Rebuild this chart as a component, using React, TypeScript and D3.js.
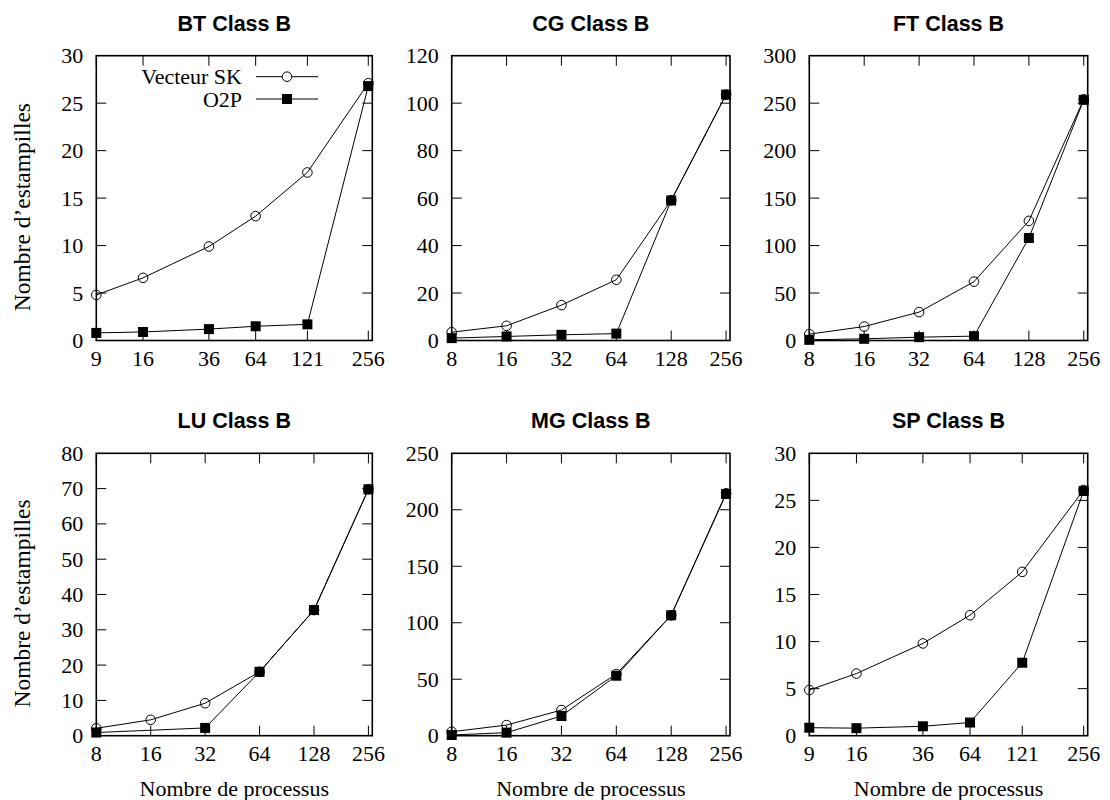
import React from "react";
import * as d3 from "d3";

// ---------- data ----------
const titles = ["BT Class B", "CG Class B", "FT Class B", "LU Class B", "MG Class B", "SP Class B"];
const procsSquare = [9, 16, 36, 64, 121, 256];
const procsPow2 = [8, 16, 32, 64, 128, 256];
const seriesNames = ["Vecteur SK", "O2P"];

const btSK = [4.8, 6.6, 9.9, 13.1, 17.7, 27.1];
const btO2P = [0.8, 0.9, 1.2, 1.5, 1.7, 26.8];
const cgSK = [3.5, 6.2, 14.9, 25.6, 59.1, 103.6];
const cgO2P = [1.0, 1.7, 2.4, 2.9, 59.0, 103.6];
const ftSK = [6.7, 14.7, 29.9, 62, 126, 254];
const ftO2P = [0.7, 1.8, 3.5, 4.6, 108, 253.5];
const luSK = [2.1, 4.5, 9.2, 18.1, 35.6, 69.8];
const luO2P: (number | null)[] = [0.9, null, 2.2, 18.1, 35.6, 69.8];
const mgSK = [3.5, 9.4, 22.7, 54.6, 106.6, 214.6];
const mgO2P = [0.6, 2.7, 17.4, 53.1, 106.6, 214];
const spSK = [4.85, 6.6, 9.8, 12.8, 17.4, 26.1];
const spO2P = [0.85, 0.8, 1.0, 1.4, 7.75, 26.0];

const yMaxes = [30, 120, 300, 80, 250, 30];
const yStepArr = [5, 20, 50, 10, 50, 5];

const panels = [
  { title: titles[0], x: procsSquare, sk: btSK, o2p: btO2P, yMax: yMaxes[0], step: yStepArr[0] },
  { title: titles[1], x: procsPow2, sk: cgSK, o2p: cgO2P, yMax: yMaxes[1], step: yStepArr[1] },
  { title: titles[2], x: procsPow2, sk: ftSK, o2p: ftO2P, yMax: yMaxes[2], step: yStepArr[2] },
  { title: titles[3], x: procsPow2, sk: luSK, o2p: luO2P, yMax: yMaxes[3], step: yStepArr[3] },
  { title: titles[4], x: procsPow2, sk: mgSK, o2p: mgO2P, yMax: yMaxes[4], step: yStepArr[4] },
  { title: titles[5], x: procsSquare, sk: spSK, o2p: spO2P, yMax: yMaxes[5], step: yStepArr[5] },
];

// ---------- layout ----------
const W = 1110;
const H = 800;
const colLeft = [96.3, 451.7, 809.3];
const colRight = [372.3, 730, 1087.7];
const rowTop = [55.7, 453.3];
const rowBottom = [340.5, 735.7];
const X_MAX = 269;
const TICK = 10;
const SQ = 10;
const CR = 4.8;
const SERIF = "'Liberation Serif', 'Times New Roman', serif";
const SANS = "'Liberation Sans', Arial, Helvetica, sans-serif";

type PanelProps = {
  p: (typeof panels)[number];
  col: number;
  row: number;
};

function Panel({ p, col, row }: PanelProps) {
  const left = colLeft[col];
  const right = colRight[col];
  const top = rowTop[row];
  const bottom = rowBottom[row];
  const x = d3.scaleLog().domain([p.x[0], X_MAX]).range([left, right]);
  const y = d3.scaleLinear().domain([0, p.yMax]).range([bottom, top]);
  const yTicks = d3.range(0, p.yMax + p.step / 2, p.step);

  const mk = (vals: (number | null)[]) =>
    p.x
      .map((xv, i) => ({ x: xv, y: vals[i] }))
      .filter((d) => d.y !== null) as { x: number; y: number }[];
  const line = d3
    .line<{ x: number; y: number }>()
    .x((d) => x(d.x))
    .y((d) => y(d.y));
  const sk = mk(p.sk);
  const o2p = mk(p.o2p);
  const cx = (left + right) / 2;

  return (
    <g>
      <text x={cx} y={top - 25} textAnchor="middle" fontFamily={SANS} fontWeight="bold" fontSize={21.5}>
        {p.title}
      </text>
      {yTicks.map((t) => (
        <g key={"y" + t}>
          {t > 0 && t < p.yMax && (
            <>
              <line x1={left} x2={left + TICK} y1={y(t)} y2={y(t)} stroke="#000" strokeWidth={1} />
              <line x1={right} x2={right - TICK} y1={y(t)} y2={y(t)} stroke="#000" strokeWidth={1} />
            </>
          )}
          <text x={left - 13} y={y(t) + 7.5} textAnchor="end" fontFamily={SERIF} fontSize={22}>
            {t}
          </text>
        </g>
      ))}
      {p.x.map((t) => (
        <g key={"x" + t}>
          <line x1={x(t)} x2={x(t)} y1={bottom} y2={bottom - TICK} stroke="#000" strokeWidth={1} />
          <line x1={x(t)} x2={x(t)} y1={top} y2={top + TICK} stroke="#000" strokeWidth={1} />
          <text x={x(t)} y={bottom + 25} textAnchor="middle" fontFamily={SERIF} fontSize={22}>
            {t}
          </text>
        </g>
      ))}
      <rect x={left} y={top} width={right - left} height={bottom - top} fill="none" stroke="#000" strokeWidth={1.6} />
      <path d={line(sk) || ""} fill="none" stroke="#000" strokeWidth={1} />
      {sk.map((d, i) => (
        <circle key={"c" + i} cx={x(d.x)} cy={y(d.y)} r={CR} fill="none" stroke="#000" strokeWidth={1} />
      ))}
      <path d={line(o2p) || ""} fill="none" stroke="#000" strokeWidth={1} />
      {o2p.map((d, i) => (
        <rect key={"s" + i} x={x(d.x) - SQ / 2} y={y(d.y) - SQ / 2} width={SQ} height={SQ} fill="#000" />
      ))}
      {row === 1 && (
        <text x={cx} y={796} textAnchor="middle" fontFamily={SERIF} fontSize={22}>
          Nombre de processus
        </text>
      )}
      {col === 0 && (
        <text
          transform={`translate(30, ${(top + bottom) / 2 + 9}) rotate(-90)`}
          textAnchor="middle"
          fontFamily={SERIF}
          fontSize={23.5}
        >
          Nombre d’estampilles
        </text>
      )}
    </g>
  );
}

function Legend() {
  const textRight = 242;
  const lx1 = 256;
  const lx2 = 318;
  const mx = (lx1 + lx2) / 2;
  const rows = [76.7, 99];
  return (
    <g>
      <text x={textRight} y={rows[0] + 7} textAnchor="end" fontFamily={SERIF} fontSize={22}>
        {seriesNames[0]}
      </text>
      <line x1={lx1} x2={lx2} y1={rows[0]} y2={rows[0]} stroke="#000" strokeWidth={1} />
      <circle cx={mx} cy={rows[0]} r={CR} fill="#fff" stroke="#000" strokeWidth={1} />
      <text x={textRight} y={rows[1] + 7.5} textAnchor="end" fontFamily={SERIF} fontSize={22}>
        {seriesNames[1]}
      </text>
      <line x1={lx1} x2={lx2} y1={rows[1]} y2={rows[1]} stroke="#000" strokeWidth={1} />
      <rect x={mx - SQ / 2} y={rows[1] - SQ / 2} width={SQ} height={SQ} fill="#000" />
    </g>
  );
}

export default function App() {
  return (
    <svg
      width={W}
      height={H}
      style={{ position: "absolute", left: 0, top: 0, background: "#fff" }}
    >
      <rect x={0} y={0} width={W} height={H} fill="#fff" />
      {panels.map((p, i) => (
        <Panel key={p.title} p={p} col={i % 3} row={Math.floor(i / 3)} />
      ))}
      <Legend />
    </svg>
  );
}
